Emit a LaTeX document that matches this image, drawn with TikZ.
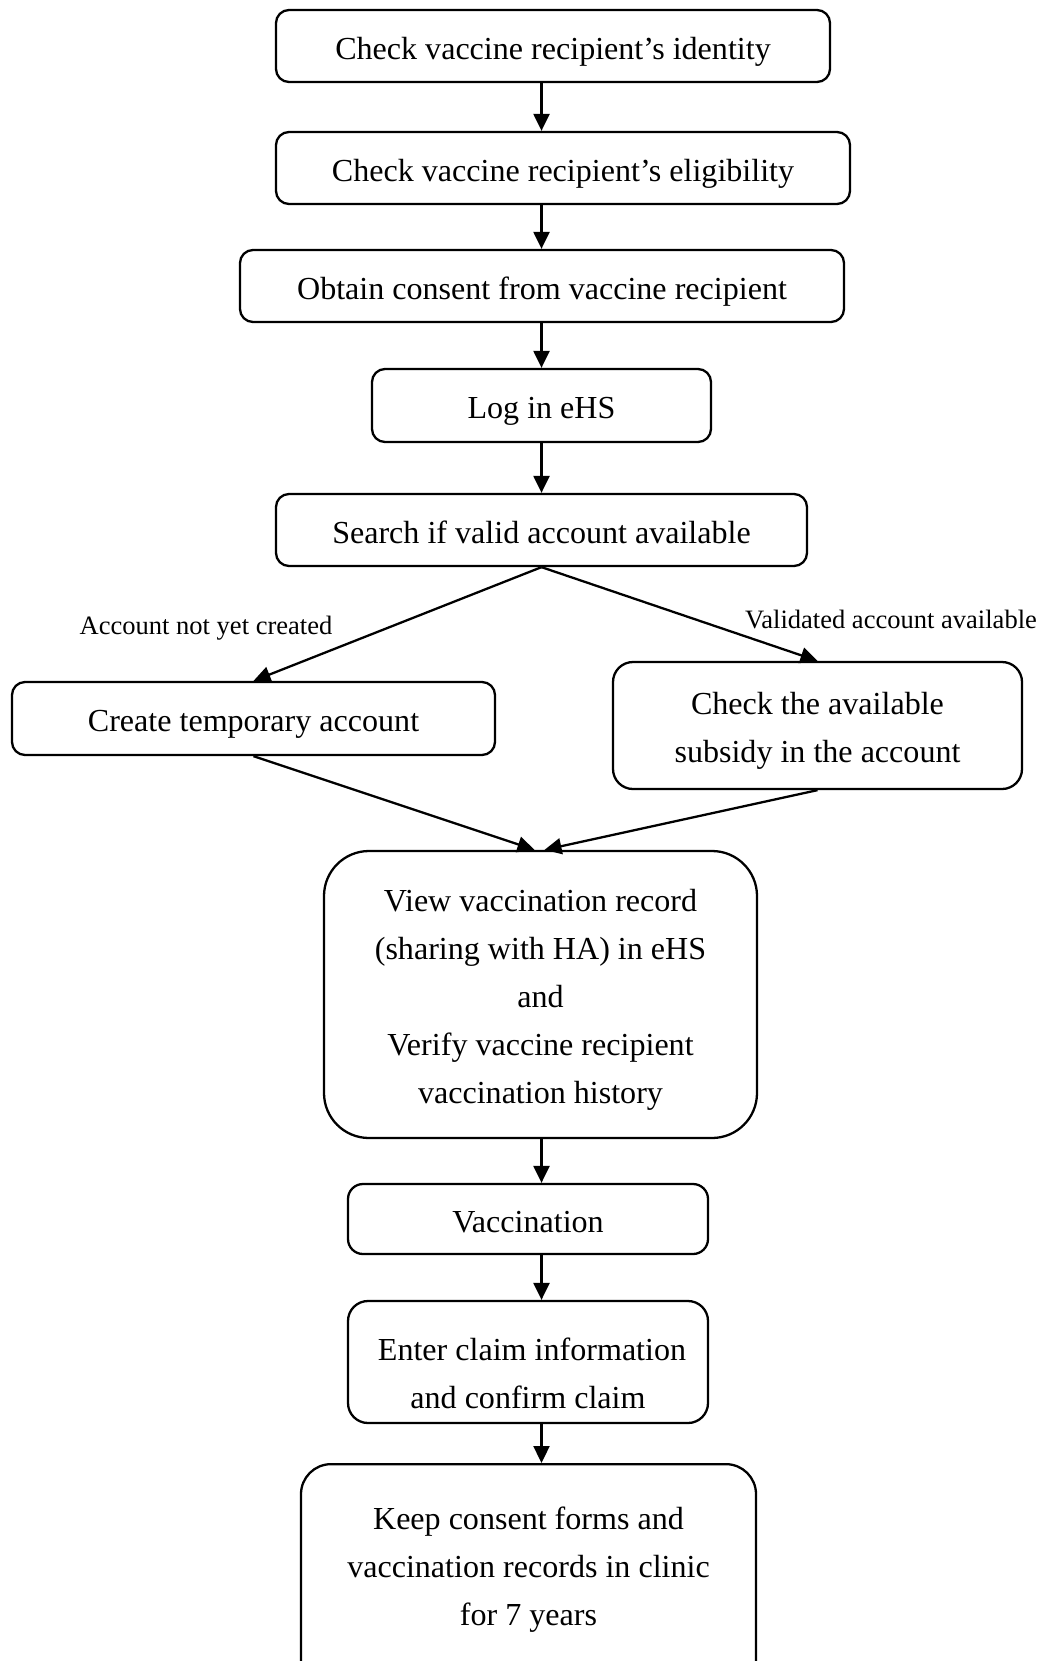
\documentclass[tikz,border=0pt]{standalone}
\usepackage{fontspec}
\setmainfont{Liberation Serif}
\usetikzlibrary{arrows.meta}
\newcommand{\boxlift}[1][0.81cm]{\rule[-0.14cm]{0pt}{#1}}

\begin{document}
\begin{tikzpicture}[>=Latex,
  box/.style={rounded corners=0.26cm,draw,line width=1.3pt,align=center,
    inner sep=2pt,font=\fontsize{18.25}{27.3}\selectfont},
  lbl/.style={inner sep=1pt,font=\fontsize{15.1}{17}\selectfont},
  flow/.style={-{Triangle[length=0.34cm,width=0.32cm]},line width=1.3pt}]
\useasboundingbox (0,0) rectangle (20.8,-33.22);

\node[box,minimum width=11.08cm,minimum height=1.44cm] (s1) at (11.06,-0.92)
  {\boxlift Check vaccine recipient’s identity};
\node[box,minimum width=11.48cm,minimum height=1.44cm] (s2) at (11.26,-3.36)
  {\boxlift Check vaccine recipient’s eligibility};
\node[box,minimum width=12.08cm,minimum height=1.44cm] (s3) at (10.84,-5.72)
  {\boxlift Obtain consent from vaccine recipient};
\node[box,minimum width=6.78cm,minimum height=1.46cm] (s4) at (10.83,-8.11)
  {\boxlift Log in eHS};
\node[box,minimum width=10.62cm,minimum height=1.44cm] (s5) at (10.83,-10.60)
  {\boxlift Search if valid account available};

\node[lbl] (l1) at (4.12,-12.56) {Account not yet created};
\node[lbl] (l2) at (17.82,-12.39) {Validated account available};

\node[box,minimum width=9.66cm,minimum height=1.46cm] (s6) at (5.07,-14.37)
  {\boxlift Create temporary account};
\node[box,rounded corners=0.4cm,minimum width=8.18cm,minimum height=2.54cm] (s7) at (16.35,-14.51)
  {\boxlift Check the available\\subsidy in the account};

\node[box,rounded corners=0.9cm,minimum width=8.66cm,minimum height=5.74cm] (s8) at (10.81,-19.89)
  {\boxlift View vaccination record\\(sharing with HA) in eHS\\and\\Verify vaccine recipient\\vaccination history};
\node[box,rounded corners=0.3cm,minimum width=7.20cm,minimum height=1.40cm] (s9) at (10.56,-24.38)
  {\boxlift Vaccination};
\node[box,rounded corners=0.4cm,minimum width=7.20cm,minimum height=2.44cm] (s10) at (10.56,-27.24)
  {\boxlift[1.05cm] Enter claim information\\and confirm claim};
\node[box,rounded corners=0.6cm,anchor=north,minimum width=9.10cm,inner ysep=0.64cm,
  text depth=2.8cm] (s11) at (10.57,-29.26)
  {\boxlift Keep consent forms and\\vaccination records in clinic\\for 7 years};

\draw[flow] (s1.south -| s4) -- (s2.north -| s4); \draw[flow] (s2.south -| s4) -- (s3.north -| s4);
\draw[flow] (s3.south -| s4) -- (s4.north); \draw[flow] (s4.south) -- (s5.north -| s4);
\draw[flow] (s5.south) -- (s6.north); \draw[flow] (s5.south) -- (s7.north);
\draw[flow] (s6.south) -- ([xshift=-0.12cm]s8.north); \draw[flow] (s7.south) -- ([xshift=0.08cm]s8.north);
\draw[flow] (s8.south -| s4) -- (s9.north -| s4); \draw[flow] (s9.south -| s4) -- (s10.north -| s4);
\draw[flow] (s10.south -| s4) -- (s11.north -| s4);
\end{tikzpicture}
\end{document}
